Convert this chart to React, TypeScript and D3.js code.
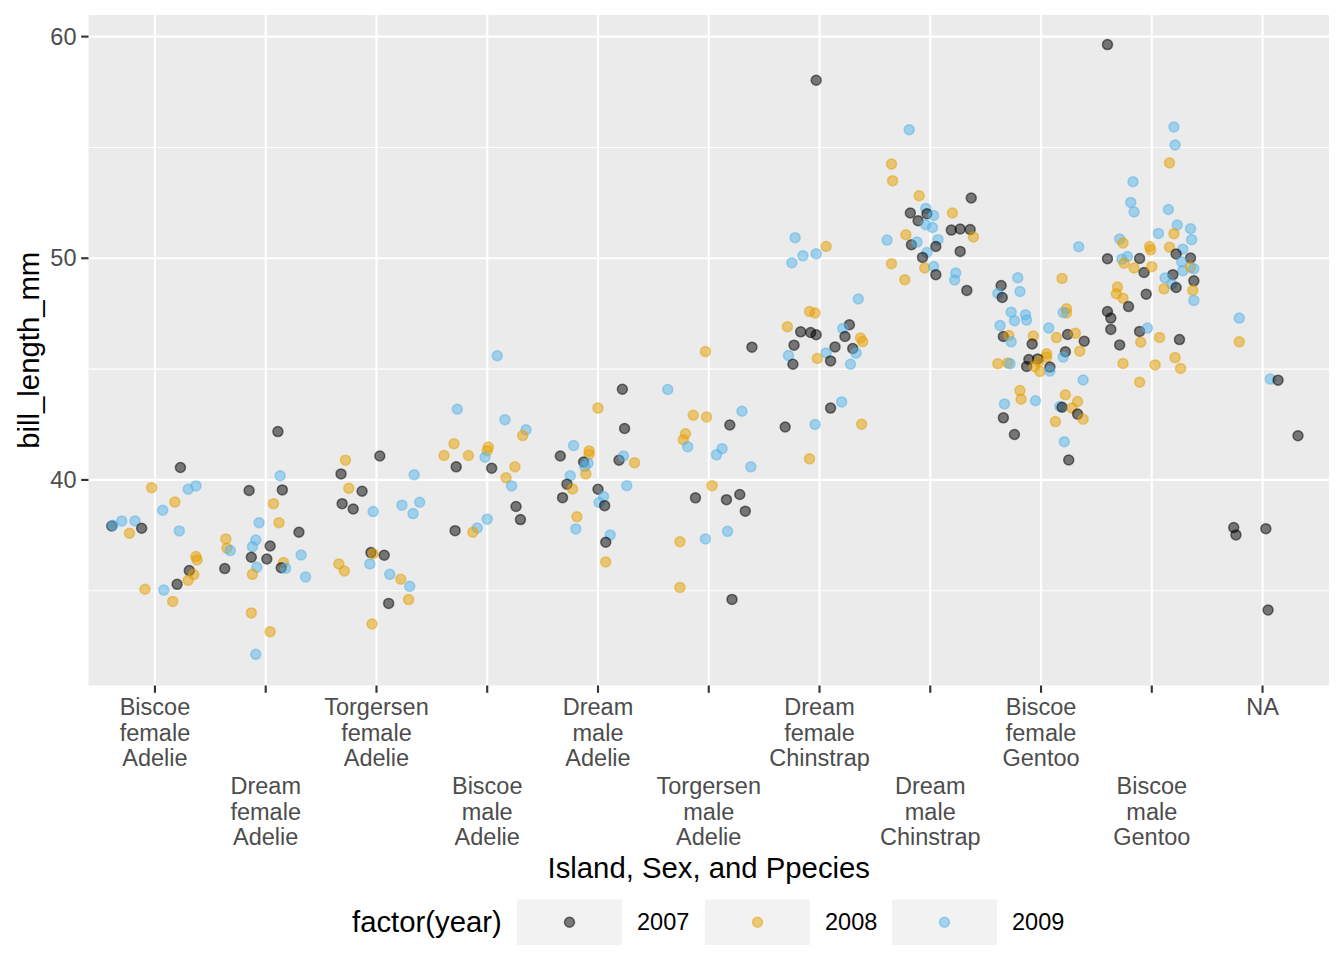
import { scaleLinear, scalePoint, scaleOrdinal } from "d3";
import { useEffect } from "react";

// one record per penguin: [jitter (fraction of a category step), bill_length_mm, year]
type Obs = [number, number, number];

const categories = [
  "Biscoe.female.Adelie",
  "Dream.female.Adelie",
  "Torgersen.female.Adelie",
  "Biscoe.male.Adelie",
  "Dream.male.Adelie",
  "Torgersen.male.Adelie",
  "Dream.female.Chinstrap",
  "Dream.male.Chinstrap",
  "Biscoe.female.Gentoo",
  "Biscoe.male.Gentoo",
  "NA",
];

const tickLabels = [
  ["Biscoe", "female", "Adelie"],
  ["Dream", "female", "Adelie"],
  ["Torgersen", "female", "Adelie"],
  ["Biscoe", "male", "Adelie"],
  ["Dream", "male", "Adelie"],
  ["Torgersen", "male", "Adelie"],
  ["Dream", "female", "Chinstrap"],
  ["Dream", "male", "Chinstrap"],
  ["Biscoe", "female", "Gentoo"],
  ["Biscoe", "male", "Gentoo"],
  ["NA"],
];

const years = ["2007", "2008", "2009"];
const yearColors = ["#000000", "#E69F00", "#56B4E9"];
const yTicks = [40, 50, 60];
const yMinorTicks = [35, 45, 55];

const biscoeFemaleAdelie: Obs[] = [
  [0.23, 40.56, 2007], [-0.03, 39.65, 2008], [0.3, 39.58, 2009], [0.37, 39.73, 2009],
  [0.18, 39.0, 2008], [0.07, 38.63, 2009], [-0.39, 37.92, 2007], [-0.38, 37.95, 2009],
  [-0.3, 38.15, 2009], [-0.18, 38.15, 2009], [-0.23, 37.59, 2008], [-0.12, 37.82, 2007],
  [0.22, 37.7, 2009], [0.37, 36.54, 2008], [0.38, 36.39, 2008], [0.31, 35.91, 2007],
  [0.35, 35.73, 2008], [0.3, 35.47, 2008], [0.2, 35.29, 2007], [-0.09, 35.07, 2008],
  [0.08, 35.03, 2009], [0.16, 34.52, 2008],
];

const dreamFemaleAdelie: Obs[] = [
  [0.11, 42.18, 2007], [0.13, 40.19, 2009], [-0.15, 39.52, 2007], [0.15, 39.55, 2007],
  [0.07, 38.93, 2008], [-0.06, 38.07, 2009], [0.12, 38.07, 2008], [0.3, 37.64, 2007],
  [-0.36, 37.34, 2008], [-0.35, 36.92, 2008], [-0.32, 36.81, 2009], [-0.09, 37.29, 2009],
  [-0.12, 36.99, 2009], [0.04, 37.02, 2007], [-0.13, 36.51, 2007], [0.01, 36.43, 2007],
  [0.32, 36.61, 2009], [0.16, 36.27, 2008], [0.14, 36.04, 2007], [0.18, 36.01, 2009],
  [-0.08, 36.06, 2009], [-0.37, 36.0, 2007], [-0.12, 35.74, 2008], [0.36, 35.62, 2009],
  [-0.13, 34.0, 2008], [0.04, 33.15, 2008], [-0.09, 32.13, 2009],
];

const torgersenFemaleAdelie: Obs[] = [
  [0.03, 41.08, 2007], [-0.28, 40.89, 2008], [-0.32, 40.27, 2007], [-0.25, 39.62, 2008],
  [-0.13, 39.49, 2007], [-0.31, 38.93, 2007], [-0.21, 38.69, 2007], [-0.03, 38.57, 2009],
  [0.34, 40.23, 2009], [0.23, 38.86, 2009], [0.39, 38.99, 2009], [0.33, 38.48, 2009],
  [-0.05, 36.72, 2007], [-0.03, 36.67, 2008], [0.07, 36.6, 2007], [-0.34, 36.21, 2008],
  [-0.29, 35.89, 2008], [-0.06, 36.21, 2009], [0.12, 35.74, 2009], [0.22, 35.52, 2008],
  [0.3, 35.2, 2009], [0.11, 34.43, 2007], [0.29, 34.6, 2008], [-0.04, 33.5, 2008],
];

const biscoeMaleAdelie: Obs[] = [
  [0.09, 45.6, 2009], [-0.27, 43.19, 2009], [0.16, 42.72, 2009], [0.35, 42.26, 2009],
  [0.32, 42.0, 2008], [-0.3, 41.63, 2008], [-0.39, 41.1, 2008], [-0.17, 41.1, 2008],
  [0.01, 41.48, 2008], [0.0, 41.32, 2008], [-0.02, 41.02, 2009], [-0.28, 40.59, 2007],
  [0.04, 40.53, 2007], [0.25, 40.59, 2008], [0.17, 40.1, 2008], [0.22, 39.73, 2009],
  [0.26, 38.8, 2007], [0.3, 38.21, 2007], [0.0, 38.23, 2009], [-0.09, 37.83, 2009],
  [-0.13, 37.64, 2008], [-0.29, 37.71, 2007],
];

const dreamMaleAdelie: Obs[] = [
  [0.22, 44.09, 2007], [0.0, 43.24, 2008], [0.24, 42.32, 2007], [-0.22, 41.55, 2009],
  [-0.08, 41.31, 2008], [-0.08, 41.16, 2008], [-0.34, 41.08, 2007], [-0.13, 40.81, 2007],
  [-0.09, 40.75, 2009], [-0.12, 40.6, 2009], [0.19, 40.89, 2007], [0.23, 41.08, 2009],
  [0.33, 40.78, 2008], [-0.11, 40.27, 2008], [-0.25, 40.19, 2009], [-0.28, 39.81, 2007],
  [-0.23, 39.59, 2008], [-0.32, 39.2, 2007], [0.0, 39.58, 2007], [0.26, 39.74, 2009],
  [0.05, 39.25, 2009], [0.01, 38.98, 2009], [0.06, 38.84, 2007], [-0.19, 38.34, 2008],
  [-0.2, 37.79, 2009], [0.11, 37.52, 2009], [0.07, 37.19, 2007], [0.07, 36.3, 2008],
];

const torgersenMaleAdelie: Obs[] = [
  [-0.03, 45.79, 2008], [0.39, 45.99, 2007], [-0.37, 44.08, 2009], [-0.14, 42.92, 2008],
  [-0.02, 42.84, 2008], [0.3, 43.1, 2009], [0.19, 42.48, 2007], [-0.21, 42.08, 2008],
  [-0.23, 41.81, 2008], [-0.19, 41.5, 2009], [0.12, 41.41, 2009], [0.07, 41.13, 2009],
  [0.38, 40.59, 2009], [0.03, 39.74, 2008], [-0.12, 39.19, 2007], [0.16, 39.11, 2007],
  [0.28, 39.34, 2007], [0.33, 38.59, 2007], [0.17, 37.68, 2009], [-0.03, 37.34, 2009],
  [-0.26, 37.21, 2008], [-0.26, 35.15, 2008], [0.21, 34.61, 2007],
];

const dreamFemaleChinstrap: Obs[] = [
  [-0.03, 58.03, 2007], [-0.22, 50.93, 2009], [-0.15, 50.11, 2009], [-0.25, 49.8, 2009],
  [-0.03, 50.2, 2009], [0.06, 50.53, 2008], [0.35, 48.16, 2009], [-0.09, 47.6, 2008],
  [-0.04, 47.53, 2008], [-0.29, 46.91, 2008], [-0.17, 46.68, 2007], [-0.08, 46.65, 2007],
  [-0.03, 46.55, 2007], [0.27, 47.0, 2007], [0.21, 46.83, 2009], [0.23, 46.47, 2007],
  [0.37, 46.4, 2008], [0.39, 46.24, 2008], [-0.23, 46.08, 2007], [0.14, 46.0, 2007],
  [0.3, 45.93, 2007], [0.33, 45.72, 2009], [-0.28, 45.61, 2009], [0.06, 45.73, 2009],
  [-0.02, 45.48, 2008], [0.1, 45.37, 2007], [-0.24, 45.22, 2007], [0.28, 45.22, 2009],
  [0.2, 43.52, 2009], [0.1, 43.24, 2007], [-0.31, 42.39, 2007], [-0.04, 42.5, 2009],
  [0.38, 42.51, 2008], [-0.09, 40.95, 2008],
];

const dreamMaleChinstrap: Obs[] = [
  [-0.19, 55.8, 2009], [-0.35, 54.25, 2008], [-0.34, 53.5, 2008], [-0.1, 52.82, 2008],
  [0.37, 52.72, 2007], [-0.18, 52.04, 2007], [-0.04, 52.25, 2009], [-0.03, 52.01, 2007],
  [0.03, 51.93, 2009], [-0.11, 51.69, 2007], [0.2, 52.04, 2008], [-0.04, 51.51, 2009],
  [0.02, 51.39, 2009], [0.19, 51.27, 2007], [0.27, 51.32, 2007], [0.36, 51.3, 2007],
  [0.39, 50.96, 2008], [-0.22, 51.06, 2008], [-0.39, 50.82, 2009], [-0.17, 50.61, 2007],
  [-0.12, 50.73, 2009], [0.07, 50.84, 2009], [0.05, 50.53, 2007], [0.27, 50.31, 2007],
  [-0.03, 50.26, 2009], [-0.07, 50.04, 2007], [-0.35, 49.75, 2008], [-0.05, 49.56, 2008],
  [0.03, 49.63, 2009], [0.05, 49.26, 2007], [0.23, 49.33, 2009], [0.22, 49.02, 2009],
  [-0.23, 49.03, 2008], [0.33, 48.55, 2007],
];

const biscoeFemaleGentoo: Obs[] = [
  [-0.21, 49.12, 2009], [0.19, 49.09, 2008], [-0.36, 48.77, 2007], [-0.39, 48.41, 2009],
  [-0.35, 48.23, 2007], [-0.19, 48.5, 2009], [-0.27, 47.57, 2009], [-0.24, 47.18, 2009],
  [-0.14, 47.45, 2009], [-0.13, 47.21, 2009], [-0.37, 46.97, 2009], [0.23, 47.72, 2008],
  [0.23, 47.53, 2008], [0.2, 47.55, 2009], [0.07, 46.85, 2009], [0.14, 46.42, 2008],
  [0.24, 46.56, 2007], [0.31, 46.62, 2008], [0.39, 46.26, 2007], [-0.34, 46.47, 2007],
  [-0.29, 46.51, 2008], [-0.27, 46.23, 2009], [-0.07, 46.49, 2008], [-0.08, 46.13, 2007],
  [0.22, 45.78, 2007], [0.35, 45.81, 2008], [0.2, 45.54, 2009], [0.05, 45.69, 2008],
  [0.05, 45.54, 2008], [-0.39, 45.24, 2008], [-0.3, 45.28, 2008], [-0.28, 45.24, 2009],
  [-0.11, 45.43, 2007], [-0.03, 45.46, 2007], [-0.13, 45.12, 2007], [-0.06, 45.12, 2008],
  [-0.02, 45.34, 2008], [-0.01, 44.89, 2008], [0.08, 45.09, 2007], [0.08, 44.91, 2009],
  [0.38, 44.51, 2009], [-0.19, 44.03, 2008], [-0.18, 43.64, 2008], [-0.33, 43.43, 2009],
  [-0.05, 43.57, 2009], [0.22, 43.84, 2008], [0.17, 43.31, 2009], [0.19, 43.28, 2007],
  [0.28, 43.24, 2008], [0.33, 43.54, 2008], [0.33, 42.97, 2007], [0.38, 42.74, 2008],
  [-0.34, 42.8, 2007], [0.13, 42.63, 2008], [-0.24, 42.05, 2007], [0.21, 41.72, 2009],
  [0.25, 40.9, 2007], [0.34, 50.52, 2009],
];

const biscoeMaleGentoo: Obs[] = [
  [-0.4, 59.64, 2007], [0.2, 55.92, 2009], [0.21, 55.11, 2009], [0.16, 54.3, 2008],
  [-0.17, 53.45, 2009], [-0.19, 52.52, 2009], [-0.16, 52.09, 2009], [0.15, 52.2, 2009],
  [0.23, 51.5, 2009], [0.35, 51.33, 2009], [0.36, 50.84, 2009], [0.06, 51.12, 2009],
  [0.2, 51.11, 2008], [-0.29, 50.87, 2009], [-0.26, 50.69, 2008], [-0.02, 50.53, 2008],
  [-0.01, 50.38, 2008], [0.16, 50.5, 2008], [0.28, 50.41, 2009], [-0.4, 49.98, 2007],
  [-0.11, 49.99, 2007], [0.22, 50.19, 2007], [0.35, 50.01, 2007], [-0.27, 49.96, 2009],
  [-0.22, 50.08, 2009], [-0.25, 49.78, 2008], [-0.16, 49.56, 2008], [-0.07, 49.36, 2007],
  [0.0, 49.62, 2008], [0.27, 49.83, 2009], [0.28, 49.44, 2009], [0.35, 49.59, 2008],
  [0.38, 49.53, 2009], [0.19, 49.26, 2007], [0.12, 49.11, 2009], [0.18, 48.84, 2009],
  [0.22, 48.68, 2007], [0.11, 48.62, 2008], [0.38, 48.98, 2007], [0.37, 48.55, 2008],
  [0.38, 48.1, 2009], [-0.31, 48.7, 2008], [-0.32, 48.4, 2008], [-0.26, 48.2, 2008],
  [-0.21, 47.82, 2007], [-0.05, 48.38, 2007], [-0.4, 47.6, 2007], [-0.37, 47.3, 2007],
  [-0.37, 46.79, 2007], [-0.11, 46.7, 2007], [-0.04, 46.85, 2009], [0.07, 46.43, 2008],
  [0.25, 46.33, 2007], [-0.1, 46.21, 2008], [-0.29, 46.09, 2007], [0.21, 45.52, 2008],
  [-0.26, 45.25, 2008], [0.03, 45.19, 2008], [0.26, 45.03, 2008], [-0.11, 44.41, 2008],
];

const sexNA: Obs[] = [
  [-0.21, 47.3, 2009], [-0.21, 46.23, 2008], [0.07, 44.55, 2009], [0.14, 44.5, 2007],
  [0.32, 41.99, 2007], [-0.26, 37.85, 2007], [-0.24, 37.52, 2007], [0.03, 37.8, 2007],
  [0.05, 34.13, 2007],
];

const groups: Obs[][] = [
  biscoeFemaleAdelie,
  dreamFemaleAdelie,
  torgersenFemaleAdelie,
  biscoeMaleAdelie,
  dreamMaleAdelie,
  torgersenMaleAdelie,
  dreamFemaleChinstrap,
  dreamMaleChinstrap,
  biscoeFemaleGentoo,
  biscoeMaleGentoo,
  sexNA,
];

const WIDTH = 1344;
const HEIGHT = 960;
const FONT = "'Liberation Sans', Arial, Helvetica, sans-serif";
const panel = { left: 88.5, right: 1329, top: 15, bottom: 685.5 };
const POINT_R = 5;

export default function App() {
  useEffect(() => {
    document.body.style.margin = "0";
  }, []);

  const x = scalePoint<string>()
    .domain(categories)
    .range([panel.left, panel.right])
    .padding(0.6);
  const step = x.step();
  // ggplot default 5% expansion on [32.1, 59.6]
  const y = scaleLinear().domain([30.725, 60.975]).range([panel.bottom, panel.top]);
  const colour = scaleOrdinal<string, string>().domain(years).range(yearColors);

  const legendKeys = [517, 705, 892];

  return (
    <svg
      width={WIDTH}
      height={HEIGHT}
      style={{ display: "block", background: "#fff", fontFamily: FONT }}
    >
      <rect x={panel.left} y={panel.top} width={panel.right - panel.left} height={panel.bottom - panel.top} fill="#EBEBEB" />
      {yMinorTicks.map((t) => (
        <line key={`mn${t}`} x1={panel.left} x2={panel.right} y1={y(t)} y2={y(t)} stroke="#fff" strokeWidth={1.07} />
      ))}
      {yTicks.map((t) => (
        <line key={`mj${t}`} x1={panel.left} x2={panel.right} y1={y(t)} y2={y(t)} stroke="#fff" strokeWidth={2.13} />
      ))}
      {categories.map((c) => (
        <line key={`v${c}`} x1={x(c)} x2={x(c)} y1={panel.top} y2={panel.bottom} stroke="#fff" strokeWidth={2.13} />
      ))}

      <g>
        {groups.map((obs, gi) =>
          obs.map(([j, v, yr], i) => {
            const col = colour(String(yr));
            return (
              <circle
                key={`${gi}-${i}`}
                cx={(x(categories[gi]) ?? 0) + j * step}
                cy={y(v)}
                r={POINT_R}
                fill={col}
                fillOpacity={0.5}
                stroke={col}
                strokeOpacity={0.5}
                strokeWidth={1.5}
              />
            );
          })
        )}
      </g>

      {/* y axis */}
      {yTicks.map((t) => (
        <g key={`yt${t}`}>
          <line x1={panel.left - 7.3} x2={panel.left} y1={y(t)} y2={y(t)} stroke="#333333" strokeWidth={2.13} />
          <text x={panel.left - 12} y={y(t)} dy="0.35em" textAnchor="end" fontSize={23.5} fill="#4D4D4D">
            {t}
          </text>
        </g>
      ))}
      <text
        transform={`translate(${29},${(panel.top + panel.bottom) / 2}) rotate(-90)`}
        textAnchor="middle"
        dy="0.35em"
        fontSize={29.3}
        fill="#000"
      >
        bill_length_mm
      </text>

      {/* x axis, labels dodged over two rows */}
      {categories.map((c, i) => {
        const cx = x(c) ?? 0;
        const top = 707 + (i % 2) * 79;
        return (
          <g key={`xt${c}`}>
            <line x1={cx} x2={cx} y1={panel.bottom} y2={panel.bottom + 7.3} stroke="#333333" strokeWidth={2.13} />
            <text textAnchor="middle" fontSize={23.5} fill="#4D4D4D">
              {tickLabels[i].map((ln, k) => (
                <tspan key={k} x={cx} y={top + k * 25.5} dy="0.35em">
                  {ln}
                </tspan>
              ))}
            </text>
          </g>
        );
      })}
      <text x={(panel.left + panel.right) / 2} y={868} dy="0.35em" textAnchor="middle" fontSize={29.3} fill="#000">
        Island, Sex, and Ppecies
      </text>

      {/* legend */}
      <text x={352} y={922} dy="0.35em" fontSize={29.3} fill="#000">
        factor(year)
      </text>
      {years.map((yr, i) => (
        <g key={`lg${yr}`}>
          <rect x={legendKeys[i]} y={899.5} width={105} height={45.5} fill="#F2F2F2" />
          <circle
            cx={legendKeys[i] + 52.5}
            cy={922.2}
            r={POINT_R}
            fill={colour(yr)}
            fillOpacity={0.5}
            stroke={colour(yr)}
            strokeOpacity={0.5}
            strokeWidth={1.5}
          />
          <text x={legendKeys[i] + 120} y={922} dy="0.35em" fontSize={23.5} fill="#000">
            {yr}
          </text>
        </g>
      ))}
    </svg>
  );
}
